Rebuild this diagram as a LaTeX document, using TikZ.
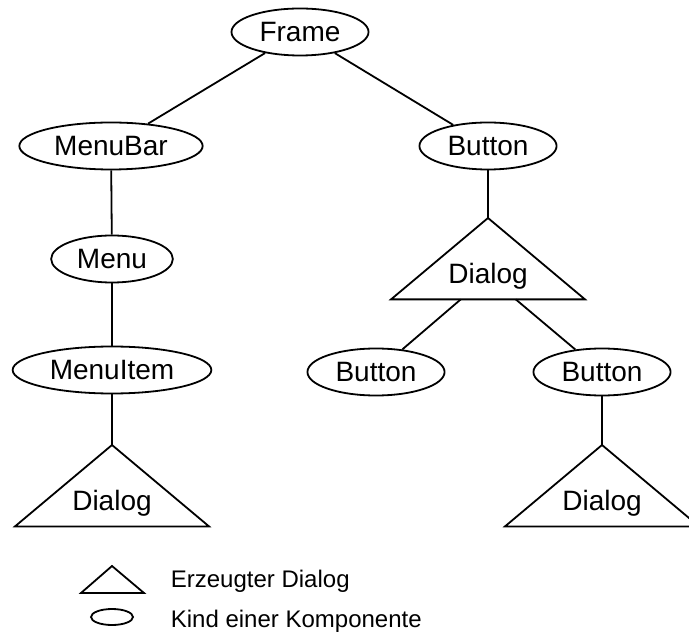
\documentclass[tikz,border=0pt]{standalone}
\usepackage{fontspec}
\setmainfont{Liberation Sans}
\usetikzlibrary{shapes.geometric}

\begin{document}
\begin{tikzpicture}[x=0.5pt, y=-0.5pt, line width=0.9pt,
    font=\fontsize{14}{17}\selectfont,
    comp/.style={ellipse, draw, inner xsep=4pt, inner ysep=0pt, minimum height=23.5pt},
    dlg/.style={inner sep=0pt, minimum width=40pt, minimum height=22.5pt}]
  \clip (0,0) rectangle (689,635);
  % Components (children)
  \node[comp] (frame) at (300,32) {Frame};
  \node[comp] (menubar) at (111,146) {MenuBar};
  \node[comp] (button) at (488,146) {Button};
  \node[comp] (menu) at (112,259) {Menu};
  \node[comp] (menuitem) at (112,370) {MenuItem};
  \node[comp] (buttonl) at (376,372) {Button};
  \node[comp] (buttonr) at (602,372) {Button};
  % Created dialogs (triangles)
  \node[dlg] (dlga) at (488,276) {Dialog};
  \node[dlg] (dlgb) at (112,503) {Dialog};
  \node[dlg] (dlgc) at (602,503) {Dialog};
  \foreach \d in {dlga,dlgb,dlgc} {
    \coordinate (\d-apex) at ([yshift=29pt]\d.center);
    \draw (\d-apex) -- ([xshift=-48.5pt]\d.south) -- ([xshift=48.5pt]\d.south) -- cycle;
  }
  % Tree edges
  \draw (frame) -- (menubar);
  \draw (frame) -- (button);
  \draw (menubar) -- (menu);
  \draw (menu) -- (menuitem);
  \draw (menuitem) -- (dlgb-apex);
  \draw (button) -- (dlga-apex);
  \draw (dlga) -- (buttonl);
  \draw (dlga) -- (buttonr);
  \draw (buttonr) -- (dlgc-apex);
  % Legend
  \draw (81,593) -- (112,566) -- (144,593) -- cycle;
  \node[ellipse, draw, inner sep=0pt, minimum width=21pt, minimum height=8pt] (keyell) at (112,617) {};
  \node[anchor=base west, inner sep=0pt, font=\fontsize{12}{14}\selectfont] (keytri) at (170,587) {Erzeugter Dialog};
  \node[anchor=base west, inner sep=0pt, font=\fontsize{12}{14}\selectfont] (keycomp) at (170,627) {Kind einer Komponente};
\end{tikzpicture}
\end{document}
